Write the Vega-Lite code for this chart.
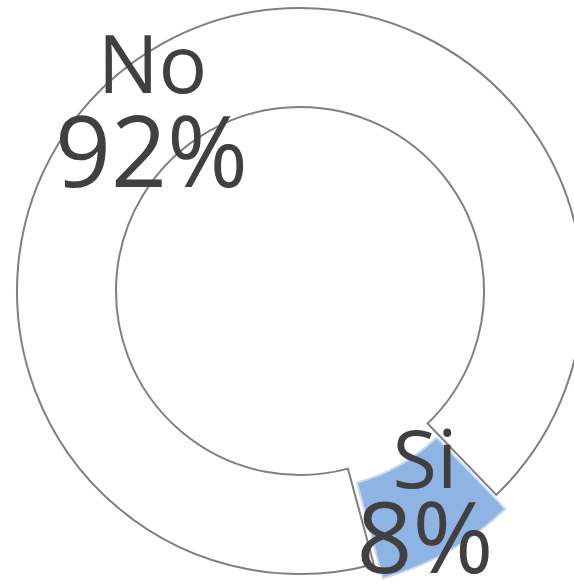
{
  "$schema": "https://vega.github.io/schema/vega-lite/v6.json",
  "width": 548,
  "height": 582,
  "autosize": {"type": "none"},
  "padding": {"left": 26, "top": 0, "right": 0, "bottom": 0},
  "background": "white",
  "view": {"stroke": null},
  "data": {"values": [
    {"cat": "No", "pct": 92, "label": "92%"},
    {"cat": "Si", "pct": 8, "label": "8%"}
  ]},
  "encoding": {
    "theta": {"field": "pct", "type": "quantitative", "stack": true, "scale": {"range": [2.878, 9.161]}},
    "order": {"field": "cat", "sort": "ascending"},
    "detail": {"field": "cat"}
  },
  "layer": [
    {
      "mark": {"type": "arc", "outerRadius": 283, "innerRadius": 184, "strokeWidth": 2},
      "encoding": {
        "fill": {"condition": {"test": "datum.cat === 'No'", "value": "#ffffff"}, "value": null},
        "stroke": {"condition": {"test": "datum.cat === 'No'", "value": "#808080"}, "value": null}
      }
    },
    {
      "mark": {"type": "arc", "outerRadius": 283, "innerRadius": 184, "strokeWidth": 2, "xOffset": 9, "yOffset": 14},
      "encoding": {
        "fill": {"condition": {"test": "datum.cat === 'Si'", "value": "#8db4e2"}, "value": null},
        "stroke": {"condition": {"test": "datum.cat === 'Si'", "value": "#c6d9f1"}, "value": null}
      }
    },
    {
      "mark": {"type": "text", "radius": 233.5, "font": "Open Sans", "fontSize": 81, "color": "#404040", "baseline": "alphabetic", "align": "center",
        "dx": {"expr": "datum.cat === 'No' ? -32.5 : 10"},
        "dy": {"expr": "datum.cat === 'No' ? 5 : -6"}},
      "encoding": {
        "text": {"field": "cat"}
      }
    },
    {
      "mark": {"type": "text", "radius": 233.5, "font": "Open Sans", "fontSize": 98, "color": "#404040", "baseline": "alphabetic", "align": "center",
        "dx": {"expr": "datum.cat === 'No' ? -33.5 : 10"},
        "dy": {"expr": "datum.cat === 'No' ? 99 : 79"}},
      "encoding": {
        "text": {"field": "label"}
      }
    }
  ]
}
